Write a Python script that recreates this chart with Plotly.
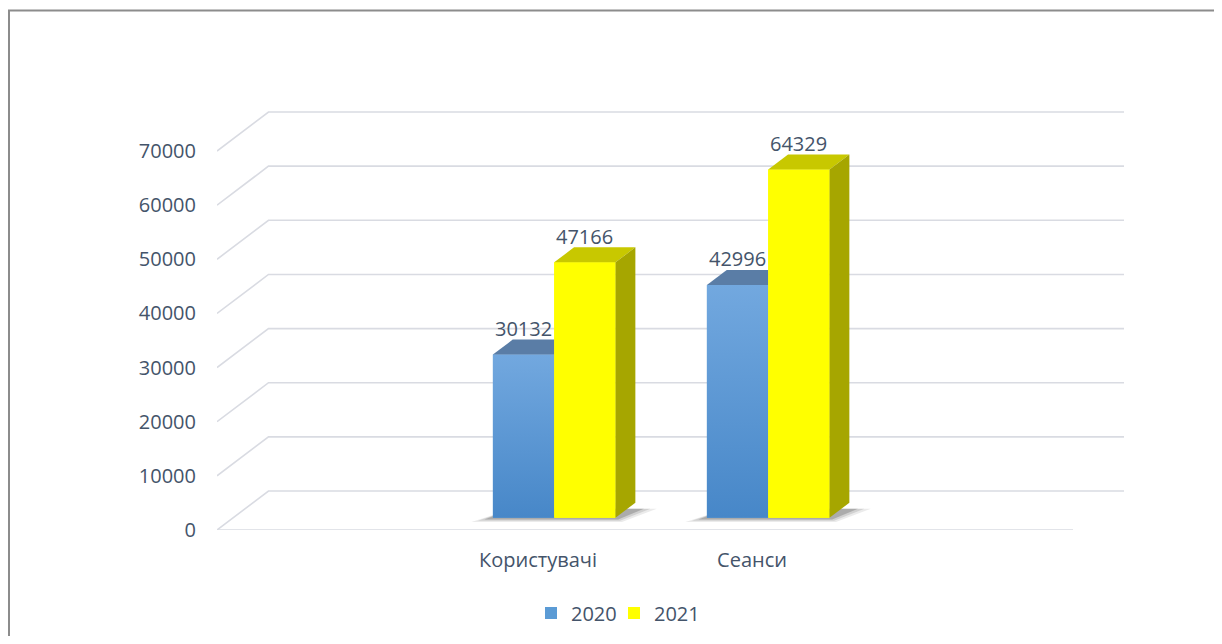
import plotly.graph_objects as go

# ---------------- data ----------------
categories = ["", "Користувачі", "Сеанси", ""]
series_names = ["2020", "2021"]
values_2020 = [None, 30132, 42996, None]
values_2021 = [None, 47166, 64329, None]
y_tick_values = [0, 10000, 20000, 30000, 40000, 50000, 60000, 70000]

# ---------------- styling / geometry ----------------
PAGE = 8                         # default body margin of the html page
W, H = 1222 - 2 * PAGE, 644 - 2 * PAGE
PLOT_L, PLOT_R, PLOT_T, PLOT_B = 217, 1124, 100, 530   # screen px
ML, MT = PLOT_L - PAGE, PLOT_T - PAGE
MR, MB = W - (PLOT_R - PAGE), H - (PLOT_B - PAGE)
PX_PER_CAT = 214.0
PX_PER_UNIT = 0.005414
plot_w = W - ML - MR
plot_h = H - MT - MB
x_range = [-0.5, -0.5 + plot_w / PX_PER_CAT]
y_range = [0, plot_h / PX_PER_UNIT]

DX = 51.5 / PX_PER_CAT          # floor depth in x units
DY = 39.0 / PX_PER_UNIT         # floor depth in y units
D_FRONT, D_BACK = 0.315, 0.70   # bar depth position (fraction of floor)
SHIFT_X, BASE = D_FRONT * DX, D_FRONT * DY
DDX, DDY = (D_BACK - D_FRONT) * DX, (D_BACK - D_FRONT) * DY
BAR_W = 0.2865

TXT = "#44546A"
FONT = "Open Sans"
GRID = "#D9DBE2"
FRONT = {"2020": "#5B9BD5", "2021": "#FFFF00"}
GRAD = {"2020": [[0, "#4787C8"], [1, "#72A8DF"]], "2021": [[0, "#FFFF00"], [1, "#FFFF00"]]}
TOP = {"2020": "#5A7DA6", "2021": "#C8C800"}
SIDE = {"2020": "#41719C", "2021": "#A6A600"}

cat_pos = list(range(len(categories)))
series_vals = {"2020": values_2020, "2021": values_2021}
series_off = {"2020": SHIFT_X - BAR_W / 2, "2021": SHIFT_X + BAR_W / 2}

fig = go.Figure()

# front faces as bars
for s in series_names:
    xs, ys = [], []
    for p, v in zip(cat_pos, series_vals[s]):
        if v is not None:
            xs.append(p + series_off[s])
            ys.append(v)
    fig.add_trace(go.Bar(
        x=xs, y=ys, base=BASE, width=BAR_W, name=s,
        marker=dict(color=FRONT[s], line=dict(width=0)),
        hoverinfo="skip",
    ))

# gradient overlay, top and side faces
annotations = []
for si, s in enumerate(series_names):
    other = series_names[1 - si]
    for p, v in zip(cat_pos, series_vals[s]):
        if v is None:
            continue
        xc = p + series_off[s]
        x0, x1 = xc - BAR_W / 2, xc + BAR_W / 2
        top = BASE + v
        fig.add_trace(go.Scatter(
            x=[x0, x1, x1, x0, x0], y=[BASE, BASE, top, top, BASE],
            fill="toself", mode="none", showlegend=False, hoverinfo="skip",
            fillgradient=dict(type="vertical", colorscale=GRAD[s], start=BASE, stop=top),
        ))
        ov = series_vals[other][p]
        right_hidden = (si == 0 and ov is not None and ov >= v)
        if right_hidden:
            tx = [x0, x1, x1, x0 + DDX, x0]
        else:
            tx = [x0, x1, x1 + DDX, x0 + DDX, x0]
        ty = [top, top, top + DDY, top + DDY, top]
        fig.add_trace(go.Scatter(
            x=tx, y=ty, fill="toself", fillcolor=TOP[s], mode="none",
            showlegend=False, hoverinfo="skip",
        ))
        if not right_hidden:
            fig.add_trace(go.Scatter(
                x=[x1, x1 + DDX, x1 + DDX, x1, x1],
                y=[BASE, BASE + DDY, top + DDY, top, BASE],
                fill="toself", fillcolor=SIDE[s], mode="none",
                showlegend=False, hoverinfo="skip",
            ))
        annotations.append(dict(
            x=xc, y=top + DDY, xref="x", yref="y", text=str(v),
            showarrow=False, yanchor="middle", yshift=11,
            font=dict(family=FONT, size=20, color=TXT),
        ))

shapes = []
# 3D gridlines (wall + floor)
for v in y_tick_values:
    shapes.append(dict(
        type="path", xref="x", yref="y", layer="below",
        path=f"M {x_range[0]},{v} L {-0.5 + DX},{v + DY} L {3.5 + DX},{v + DY}",
        line=dict(color=GRID, width=1.6),
    ))
shapes.append(dict(type="line", xref="x", yref="y", layer="below",
                   x0=-0.5, y0=0, x1=3.5, y1=0, line=dict(color=GRID, width=1.6)))

# soft shadow under each bar group
for p in cat_pos:
    if values_2020[p] is None:
        continue
    gx0 = p + series_off["2020"] - BAR_W / 2
    gx1 = p + series_off["2021"] + BAR_W / 2
    for k, a in [(0.10, 0.10), (0.07, 0.15), (0.04, 0.25)]:
        shapes.append(dict(
            type="path", xref="x", yref="y", layer="below",
            path=(f"M {gx0 - k},{BASE - k * 8000} L {gx1 + k * 0.3},{BASE - k * 8000} "
                  f"L {gx1 + DDX + k},{BASE + DDY * 0.6} L {gx0 + DDX},{BASE + DDY * 0.6} Z"),
            fillcolor=f"rgba(60,60,60,{a})", line=dict(width=0),
        ))

# outer border (screen px 7.3 left, 10.5 top)
def px_to_paper_x(px):
    return (px - PAGE - ML) / plot_w

def px_to_paper_y(py):
    return (MT + plot_h - (py - PAGE)) / plot_h

shapes.append(dict(
    type="rect", xref="paper", yref="paper",
    x0=px_to_paper_x(PAGE + 1), x1=px_to_paper_x(1260),
    y0=px_to_paper_y(680), y1=px_to_paper_y(10.5),
    line=dict(color="#8C8C8C", width=2), layer="below",
))

fig.update_layout(
    width=W, height=H,
    margin=dict(l=ML, r=MR, t=MT, b=MB, autoexpand=False),
    paper_bgcolor="white", plot_bgcolor="rgba(0,0,0,0)",
    barmode="overlay",
    font=dict(family=FONT, size=20, color=TXT),
    shapes=shapes, annotations=annotations,
    legend=dict(
        orientation="h", x=px_to_paper_x(614), xanchor="center",
        y=px_to_paper_y(613), yanchor="middle",
        font=dict(family=FONT, size=20, color=TXT),
        traceorder="normal", itemclick=False, bgcolor="rgba(0,0,0,0)",
        entrywidth=38, itemwidth=30,
    ),
    xaxis=dict(
        range=x_range, tickmode="array", tickvals=cat_pos, ticktext=categories,
        showgrid=False, zeroline=False, showline=False, ticks="",
        tickfont=dict(family=FONT, size=20, color=TXT), ticklabelstandoff=16,
        fixedrange=True, automargin=False,
    ),
    yaxis=dict(
        range=y_range, tickmode="array", tickvals=y_tick_values,
        ticktext=[str(v) for v in y_tick_values],
        showgrid=False, zeroline=False, showline=False, ticks="",
        tickfont=dict(family=FONT, size=20, color=TXT), ticklabelstandoff=20,
        fixedrange=True, automargin=False,
    ),
    showlegend=True,
)

fig.write_html("out.html")
